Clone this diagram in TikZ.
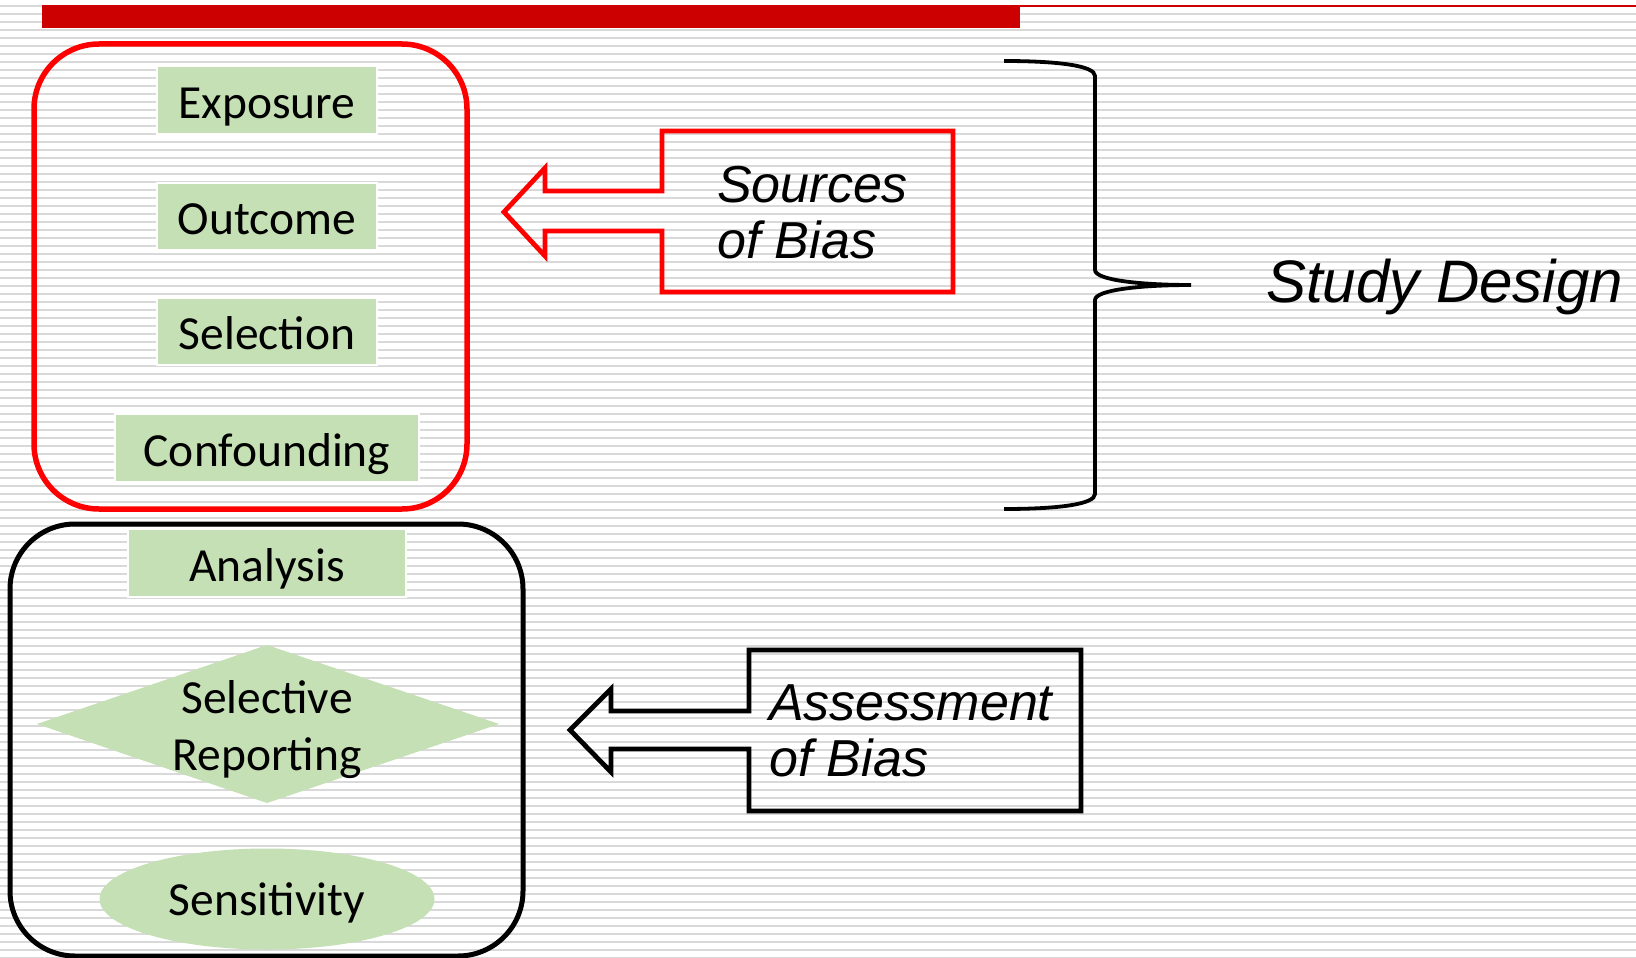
\documentclass[tikz,border=0pt]{standalone}
\usepackage{fontspec}
\setmainfont{Carlito}
\newfontfamily\obfont{Liberation Sans}
\usetikzlibrary{shapes.geometric}
\definecolor{stripegray}{RGB}{217,217,217}
\definecolor{barred}{RGB}{204,0,0}
\definecolor{pureRed}{RGB}{255,0,0}
\definecolor{lightgreen}{RGB}{197,224,180}
\begin{document}
\begin{tikzpicture}[x=1pt,y=-1pt,
  stripe/.style={draw=stripegray,line width=1.8pt},
  gbox/.style={rectangle,fill=lightgreen,draw=white,line width=2.5pt,inner sep=0pt,
    font=\fontsize{47.5}{57}\selectfont,text height=36pt,text depth=0pt},
  gshape/.style={fill=lightgreen,draw=none},
  gtext/.style={font=\fontsize{47.5}{57}\selectfont,inner sep=0pt,align=center},
  redframe/.style={draw=pureRed,line width=5.5pt,rounded corners=65pt},
  blackframe/.style={draw=black,line width=5pt,rounded corners=65pt},
  redcallout/.style={draw=pureRed,line width=4.8pt,line join=miter},
  blackcallout/.style={draw=black,line width=4.8pt,line join=miter},
  ctext/.style={font=\obfont\itshape\fontsize{52}{56}\selectfont,inner sep=0pt,align=left},
  bracestyle/.style={draw=black,line width=3.8pt}]
\useasboundingbox (0,0) rectangle (1636,958);
\fill[white] (0,0) rectangle (1636,958);
% background stripes
\foreach \k in {0,...,119} \draw[stripe] (0,{6+8*\k}) -- (1636,{6+8*\k});
% top bar
\fill[barred] (42,5) rectangle (1020,28);
\fill[barred] (1020,5) rectangle (1636,7.5);
% frames
\draw[redframe] (34,44) rectangle (467,509);
\draw[blackframe] (10,524) rectangle (523,956);
% green items
\node[gbox,minimum width=220pt,minimum height=68pt] (exp) at (267,100) {Exposure};
\node[gbox,minimum width=220pt,minimum height=67pt] (out) at (267,216.5) {Outcome};
\node[gbox,minimum width=220pt,minimum height=67pt] (sel) at (267,331.5) {Selection};
\node[gbox,minimum width=304pt,minimum height=68pt] (conf) at (267,448) {Confounding};
\node[gbox,minimum width=278pt,minimum height=68pt] (ana) at (267,563) {Analysis};
\fill[gshape] (37,724) -- (267,645) -- (499,724) -- (267,803) -- cycle;
\node[gtext] (selrep) at (267,730) {Selective\\Reporting};
\node[ellipse,fill=lightgreen,inner sep=0pt,minimum width=335pt,minimum height=101pt,
  font=\fontsize{47.5}{57}\selectfont,text height=33pt,text depth=0pt] (sens) at (267,899) {Sensitivity};
% red callout
\draw[redcallout] (662,131) -- (953,131) -- (953,292) -- (662,292) -- (662,231) -- (545,231)
  -- (545,256) -- (504,212) -- (545,168) -- (545,191) -- (662,191) -- cycle;
\node[ctext,anchor=west] (src) at (717,213) {Sources\\of Bias};
% black callout
\draw[blackcallout] (749,650) -- (1081,650) -- (1081,811) -- (749,811) -- (749,749) -- (611,749)
  -- (611,772) -- (570,730) -- (611,689) -- (611,711) -- (749,711) -- cycle;
\node[ctext,anchor=west] (ass) at (769,731) {Assessment\\of Bias};
% brace
\draw[bracestyle] (1004,61) .. controls (1060,61) and (1095,66) .. (1095,76) -- (1095,270)
  .. controls (1095,280) and (1140,285) .. (1191,285)
  .. controls (1140,285) and (1095,290) .. (1095,300) -- (1095,494)
  .. controls (1095,504) and (1060,509) .. (1004,509);
\node[font=\obfont\itshape\fontsize{60}{66}\selectfont,inner sep=0pt,anchor=base west] (sd) at (1266,302) {Study Design};
\end{tikzpicture}
\end{document}
